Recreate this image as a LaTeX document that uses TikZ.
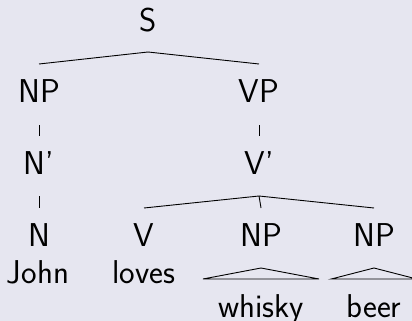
\documentclass[tikz,border=0pt]{standalone}
\usepackage{fontspec}
\usetikzlibrary{calc}
\definecolor{bgcol}{RGB}{230,230,240}
\tikzset{
  cat/.style={anchor=base, inner sep=0pt, font=\sffamily\fontsize{33}{40}\selectfont},
  edge/.style={line width=0.9pt, black},
}
\begin{document}
\begin{tikzpicture}[x=1pt,y=-1pt]
\path[use as bounding box, fill=bgcol] (0,0) rectangle (412,321);
\clip (0,0) rectangle (412,321);
% categories (positions are baselines)
\node[cat] (S)     at (148,32)  {S};
\node[cat] (NP)    at (39,102)  {NP};
\node[cat] (VP)    at (259,102) {VP};
\node[cat] (Nbar)  at (39,174)  {N’};
\node[cat] (Vbar)  at (259,174) {V’};
\node[cat] (N)     at (39,246)  {N};
\node[cat] (V)     at (144,246) {V};
\node[cat] (NPo)   at (261,246) {NP};
\node[cat] (NPb)   at (374,246) {NP};
% words
\node[cat] (john)   at (38,283)  {John};
\node[cat] (loves)  at (144,283) {loves};
\node[cat] (whisky) at (261,317) {whisky};
\node[cat] (beer)   at (374,317) {beer};
% branches
\draw[edge] ($(S.base)+(0,20)$) -- ($(NP.base)+(0,-38)$);
\draw[edge] ($(S.base)+(0,20)$) -- ($(VP.base)+(0,-38)$);
\draw[edge] ($(NP.base)+(0,23)$) -- ($(Nbar.base)+(0,-38)$);
\draw[edge] ($(VP.base)+(0,23)$) -- ($(Vbar.base)+(0,-38)$);
\draw[edge] ($(Nbar.base)+(0,22)$) -- ($(N.base)+(0,-38)$);
\draw[edge] ($(Vbar.base)+(0,22)$) -- ($(V.base)+(0,-38)$);
\draw[edge] ($(Vbar.base)+(0,22)$) -- ($(NPo.base)+(0,-38)$);
\draw[edge] ($(Vbar.base)+(0,22)$) -- ($(NPb.base)+(0,-38)$);
% roofs
\draw[edge] ($(NPo.base)+(0,22)$) -- ($(whisky.base -| whisky.west)+(-15,-38)$)
  -- ($(whisky.base -| whisky.east)+(15,-38)$) -- cycle;
\draw[edge] ($(NPb.base)+(0,22)$) -- ($(beer.base -| beer.west)+(-15,-38)$)
  -- ($(beer.base -| beer.east)+(15,-38)$) -- cycle;
\end{tikzpicture}
\end{document}
